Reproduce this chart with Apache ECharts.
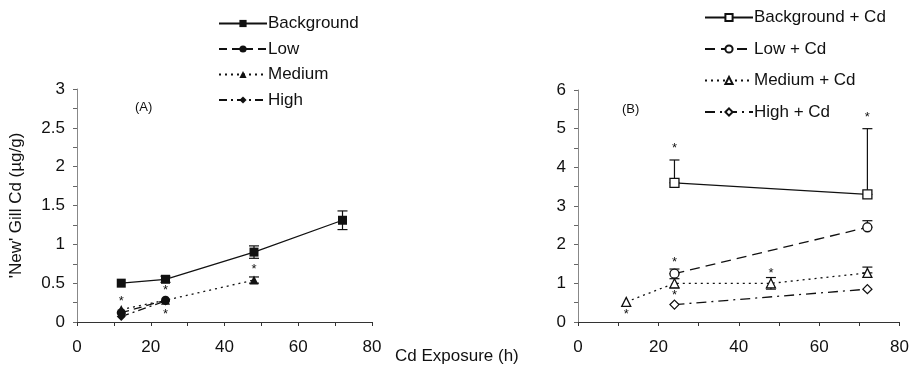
<!DOCTYPE html>
<html><head><meta charset="utf-8">
<script src="https://cdn.jsdelivr.net/npm/echarts@6/dist/echarts.min.js"></script>
<style>html,body{margin:0;padding:0;background:#fff}#c{width:912px;height:367px}</style>
</head><body><div id="c"></div>
<script>
// ---- Data ----
var hours = [12, 24, 48, 72];
// Panel A
var bgA = [[12, 0.50], [24, 0.55], [48, 0.90], [72, 1.31]];
var lowA = [[12, 0.12], [24, 0.28]];
var medA = [[12, 0.16], [24, 0.28], [48, 0.54]];
var highA = [[12, 0.07], [24, 0.27]];
var errA = [[24, 0.51, 0.59], [48, 0.82, 0.98], [72, 1.19, 1.43], [48, 0.50, 0.58]];
var starsA = [[12, 0.27], [24, 0.41], [24, 0.10], [48, 0.68]];
// Panel B
var bgB = [[24, 3.60], [72, 3.30]];
var lowB = [[24, 1.25], [72, 2.45]];
var medB = [[12, 0.52], [24, 1.00], [48, 1.00], [72, 1.27]];
var highB = [[24, 0.45], [72, 0.85]];
var errB = [[24, 3.60, 4.19], [72, 3.30, 5.00], [24, 1.25, 1.37], [72, 2.45, 2.62], [48, 0.85, 1.15], [72, 1.27, 1.42], [24, 0.88, 1.12]];
var starsB = [[12, 0.20], [24, 4.50], [24, 1.55], [24, 0.70], [48, 1.25], [72, 5.30]];
var namesA = ['Background', 'Low', 'Medium', 'High'];
var namesB = ['Background + Cd', 'Low + Cd', 'Medium + Cd', 'High + Cd'];
var yTicksA = [0, 3, 0.5];
var yTicksB = [0, 6, 1];
var xTicks = [0, 80, 20];

var FONT = 'Liberation Sans, Arial, sans-serif';
var BLACK = '#111';

function lineSeries(name, data, xi, dash, symbol, hollow, size) {
  return {
    name: name, type: 'line', xAxisIndex: xi, yAxisIndex: xi, data: data,
    symbol: symbol, symbolSize: size, showAllSymbol: true,
    lineStyle: {color: BLACK, width: 1.3, type: dash},
    itemStyle: {color: hollow ? '#fff' : BLACK, borderColor: BLACK, borderWidth: hollow ? 1.3 : 0},
    z: 3
  };
}
function errSeries(data, xi) {
  return {
    type: 'custom', xAxisIndex: xi, yAxisIndex: xi, data: data, z: 2,
    renderItem: function (params, api) {
      var lo = api.coord([api.value(0), api.value(1)]);
      var hi = api.coord([api.value(0), api.value(2)]);
      var w = 5;
      return {type: 'group', children: [
        {type: 'line', shape: {x1: lo[0], y1: lo[1], x2: hi[0], y2: hi[1]}, style: {stroke: BLACK, lineWidth: 1.2}},
        {type: 'line', shape: {x1: hi[0] - w, y1: hi[1], x2: hi[0] + w, y2: hi[1]}, style: {stroke: BLACK, lineWidth: 1.2}},
        {type: 'line', shape: {x1: lo[0] - w, y1: lo[1], x2: lo[0] + w, y2: lo[1]}, style: {stroke: BLACK, lineWidth: 1.2}}
      ]};
    }
  };
}
function starSeries(data, xi) {
  return {
    type: 'custom', xAxisIndex: xi, yAxisIndex: xi, data: data, z: 4,
    renderItem: function (params, api) {
      var p = api.coord([api.value(0), api.value(1)]);
      return {type: 'text', x: p[0], y: p[1], style: {text: '*', fontSize: 13, fontFamily: FONT, fill: BLACK, align: 'center', verticalAlign: 'middle'}};
    }
  };
}
function xAxis(gi) {
  return {
    type: 'value', gridIndex: gi, min: xTicks[0], max: xTicks[1], interval: xTicks[2],
    axisLine: {lineStyle: {color: '#333', width: 1}},
    axisTick: {show: true, length: 4, lineStyle: {color: '#333'}},
    minorTick: {show: true, splitNumber: 2, length: 4, lineStyle: {color: '#333'}},
    axisLabel: {fontSize: 17, color: BLACK, fontFamily: FONT, margin: 17},
    splitLine: {show: false}
  };
}
function yAxis(gi, t, name) {
  return {
    type: 'value', gridIndex: gi, min: t[0], max: t[1], interval: t[2],
    name: name, nameLocation: 'middle', nameGap: 52, nameRotate: 90,
    nameTextStyle: {fontSize: 17, color: BLACK, fontFamily: FONT},
    axisLine: {show: true, lineStyle: {color: '#888', width: 1}},
    axisTick: {show: true, length: 4, lineStyle: {color: '#666'}},
    minorTick: {show: true, splitNumber: 2, length: 4, lineStyle: {color: '#666'}},
    axisLabel: {fontSize: 17, color: BLACK, fontFamily: FONT, margin: 12},
    splitLine: {show: false}
  };
}
function legend(names, left, top, gap) {
  return {
    data: names, orient: 'vertical', left: left, top: top, itemGap: gap,
    itemWidth: 48, itemHeight: 9,
    textStyle: {fontSize: 17, color: BLACK, fontFamily: FONT, padding: [0, 0, 0, -4]},
    inactiveColor: BLACK
  };
}

var chart = echarts.init(document.getElementById('c'), null, {renderer: 'canvas'});
chart.setOption({
  animation: false,
  backgroundColor: '#fff',
  grid: [
    {left: 77, top: 89, width: 295, height: 233},
    {left: 578, top: 90, width: 322, height: 232}
  ],
  xAxis: [xAxis(0), xAxis(1)],
  yAxis: [yAxis(0, yTicksA, "'New' Gill Cd (µg/g)"), yAxis(1, yTicksB, '')],
  legend: [legend(namesA, 213, 10, 8.5), legend(namesB, 699, 4, 14.5)],
  graphic: [
    {type: 'text', left: 135, top: 101, style: {text: '(A)', fontSize: 13, fontFamily: FONT, fill: BLACK}},
    {type: 'text', left: 622, top: 103, style: {text: '(B)', fontSize: 13, fontFamily: FONT, fill: BLACK}},
    {type: 'text', left: 395, top: 348, style: {text: 'Cd Exposure (h)', fontSize: 17, fontFamily: FONT, fill: BLACK}}
  ],
  series: [
    lineSeries(namesA[0], bgA, 0, 'solid', 'rect', false, 9),
    lineSeries(namesA[1], lowA, 0, [8, 5], 'circle', false, 9),
    lineSeries(namesA[2], medA, 0, [2, 4], 'triangle', false, 9),
    lineSeries(namesA[3], highA, 0, [8, 4, 2, 4], 'diamond', false, 9),
    errSeries(errA, 0),
    starSeries(starsA, 0),
    lineSeries(namesB[0], bgB, 1, 'solid', 'rect', true, 9),
    lineSeries(namesB[1], lowB, 1, [10, 6], 'circle', true, 9),
    lineSeries(namesB[2], medB, 1, [2, 4], 'triangle', true, 9),
    lineSeries(namesB[3], highB, 1, [10, 5, 2, 5], 'diamond', true, 9),
    errSeries(errB, 1),
    starSeries(starsB, 1)
  ]
});
</script></body></html>
